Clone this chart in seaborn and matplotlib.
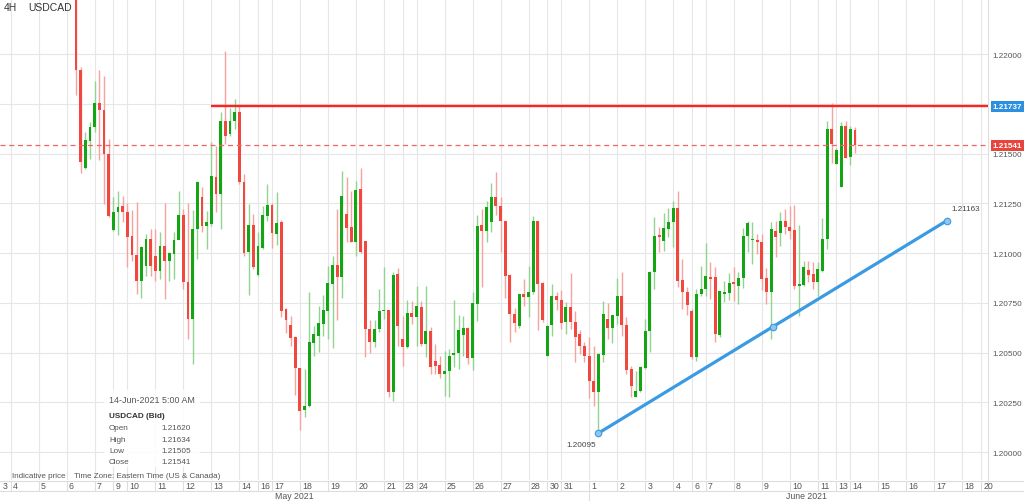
"""USDCAD 4H candlestick chart with resistance line and rising trendline."""
import matplotlib
matplotlib.use("Agg")
import matplotlib.pyplot as plt
import matplotlib.transforms as mtransforms
from matplotlib.lines import Line2D
from matplotlib.patches import Rectangle
import numpy as np
import pandas as pd
import seaborn as sns

# ---------------------------------------------------------------------------
# Data - one candle every 4 hours, 6 May .. 14 Jun 2021
# ---------------------------------------------------------------------------
opens = [
    1.22452, 1.21919, 1.21427, 1.21562, 1.21633, 1.21753, 1.21718, 1.21497, 1.21115, 1.21206,
    1.21236, 1.21206, 1.21085, 1.20990, 1.20859, 1.20934, 1.21070, 1.20985, 1.20909, 1.21035,
    1.20960, 1.20995, 1.21065, 1.21191, 1.20854, 1.20668, 1.21120, 1.21281, 1.21135, 1.21145,
    1.21382, 1.21296, 1.21663, 1.21598, 1.21663, 1.21708, 1.21356, 1.21005, 1.21140, 1.20889,
    1.21025, 1.21186, 1.21241, 1.21095, 1.21155, 1.20718, 1.20638, 1.20578, 1.20422, 1.20211,
    1.20231, 1.20547, 1.20583, 1.20643, 1.20708, 1.20844, 1.20939, 1.20879, 1.21196, 1.21130,
    1.21055, 1.21321, 1.21060, 1.20618, 1.20552, 1.20618, 1.20708, 1.20713, 1.20301, 1.20894,
    1.20568, 1.20527, 1.20698, 1.20678, 1.20728, 1.20542, 1.20608, 1.20457, 1.20437, 1.20392,
    1.20407, 1.20487, 1.20497, 1.20588, 1.20623, 1.20472, 1.20744, 1.21140, 1.21110, 1.21155,
    1.21281, 1.21236, 1.21160, 1.20889, 1.20693, 1.20633, 1.20794, 1.20779, 1.20804, 1.21160,
    1.20849, 1.20482, 1.20638, 1.20784, 1.20764, 1.20653, 1.20728, 1.20653, 1.20593, 1.20532,
    1.20482, 1.20357, 1.20301, 1.20487, 1.20668, 1.20623, 1.20683, 1.20784, 1.20638, 1.20417,
    1.20276, 1.20306, 1.20422, 1.20608, 1.20904, 1.21090, 1.21060, 1.21120, 1.21155, 1.21226,
    1.20864, 1.20804, 1.20708, 1.20477, 1.20794, 1.20819, 1.20879, 1.20879, 1.20588, 1.20794,
    1.20799, 1.20854, 1.20834, 1.20874, 1.21085, 1.21065, 1.21065, 1.21055, 1.20874, 1.20804,
    1.21110, 1.21100, 1.21160, 1.21130, 1.21115, 1.20834, 1.20839, 1.20914, 1.20894, 1.20854,
    1.20909, 1.21070, 1.21623, 1.21447, 1.21330, 1.21638, 1.21482, 1.21620,
]
highs = [
    1.22502, 1.21934, 1.21608, 1.21658, 1.21864, 1.21919, 1.21889, 1.21573, 1.21281, 1.21311,
    1.21286, 1.21251, 1.21216, 1.21256, 1.21035, 1.21095, 1.21120, 1.21120, 1.21105, 1.21251,
    1.21005, 1.21105, 1.21311, 1.21221, 1.21251, 1.21216, 1.21361, 1.21331, 1.21211, 1.21557,
    1.21537, 1.21708, 1.22015, 1.21728, 1.21774, 1.21748, 1.21397, 1.21246, 1.21196, 1.21105,
    1.21236, 1.21346, 1.21251, 1.21306, 1.21165, 1.20723, 1.20683, 1.20583, 1.20422, 1.20417,
    1.20804, 1.20633, 1.20733, 1.20789, 1.20934, 1.20985, 1.21221, 1.21412, 1.21382, 1.21311,
    1.21361, 1.21427, 1.21060, 1.20663, 1.20663, 1.20819, 1.20929, 1.20713, 1.20904, 1.20924,
    1.20683, 1.20764, 1.20759, 1.20834, 1.20759, 1.20834, 1.20628, 1.20542, 1.20482, 1.20507,
    1.20517, 1.20764, 1.20688, 1.20683, 1.20628, 1.20804, 1.21191, 1.21221, 1.21261, 1.21351,
    1.21407, 1.21281, 1.21160, 1.20894, 1.20723, 1.20794, 1.20869, 1.20934, 1.21186, 1.21160,
    1.20854, 1.20638, 1.20844, 1.20804, 1.20814, 1.20754, 1.20899, 1.20708, 1.20613, 1.20552,
    1.20578, 1.20532, 1.20497, 1.20759, 1.20749, 1.20688, 1.20874, 1.20904, 1.20678, 1.20432,
    1.20407, 1.20432, 1.20668, 1.20909, 1.21181, 1.21130, 1.21201, 1.21226, 1.21261, 1.21311,
    1.20970, 1.20829, 1.20718, 1.20819, 1.20934, 1.21050, 1.20954, 1.20929, 1.20809, 1.20859,
    1.20899, 1.20929, 1.20904, 1.21125, 1.21160, 1.21155, 1.21095, 1.21095, 1.20924, 1.21155,
    1.21160, 1.21206, 1.21221, 1.21236, 1.21241, 1.21140, 1.20960, 1.20960, 1.20954, 1.20954,
    1.21176, 1.21663, 1.21753, 1.21527, 1.21658, 1.21663, 1.21638, 1.21634,
]
lows = [
    1.21794, 1.21402, 1.21422, 1.21472, 1.21608, 1.21467, 1.21246, 1.21181, 1.21110, 1.21090,
    1.21155, 1.20929, 1.20960, 1.20794, 1.20774, 1.20884, 1.20884, 1.20859, 1.20869, 1.20769,
    1.20859, 1.20869, 1.21070, 1.20819, 1.20568, 1.20442, 1.20970, 1.21105, 1.21020, 1.21135,
    1.21206, 1.21120, 1.21547, 1.21588, 1.21623, 1.21346, 1.20985, 1.20789, 1.20919, 1.20884,
    1.21020, 1.21160, 1.21025, 1.21040, 1.20678, 1.20598, 1.20532, 1.20286, 1.20110, 1.20176,
    1.20226, 1.20482, 1.20502, 1.20583, 1.20568, 1.20522, 1.20663, 1.20774, 1.21055, 1.21055,
    1.20985, 1.21000, 1.20477, 1.20497, 1.20527, 1.20603, 1.20668, 1.20276, 1.20256, 1.20532,
    1.20430, 1.20522, 1.20643, 1.20532, 1.20532, 1.20477, 1.20392, 1.20392, 1.20372, 1.20281,
    1.20276, 1.20427, 1.20417, 1.20482, 1.20442, 1.20412, 1.20658, 1.20829, 1.21055, 1.21105,
    1.21191, 1.21005, 1.20774, 1.20552, 1.20603, 1.20623, 1.20733, 1.20678, 1.20794, 1.20613,
    1.20653, 1.20482, 1.20583, 1.20713, 1.20618, 1.20593, 1.20618, 1.20452, 1.20492, 1.20452,
    1.20271, 1.20231, 1.20095, 1.20452, 1.20568, 1.20547, 1.20643, 1.20583, 1.20392, 1.20276,
    1.20276, 1.20301, 1.20417, 1.20502, 1.20819, 1.21005, 1.21010, 1.21080, 1.21030, 1.20829,
    1.20718, 1.20688, 1.20467, 1.20457, 1.20784, 1.20784, 1.20769, 1.20552, 1.20578, 1.20754,
    1.20764, 1.20759, 1.20743, 1.20824, 1.21005, 1.20945, 1.20995, 1.20814, 1.20743, 1.20568,
    1.20980, 1.21035, 1.21095, 1.21070, 1.20819, 1.20683, 1.20834, 1.20854, 1.20819, 1.20784,
    1.20904, 1.21020, 1.21452, 1.21447, 1.21330, 1.21477, 1.21442, 1.21505,
]
closes = [
    1.21919, 1.21457, 1.21568, 1.21633, 1.21753, 1.21718, 1.21497, 1.21186, 1.21206, 1.21231,
    1.21206, 1.21080, 1.20990, 1.20859, 1.21030, 1.21070, 1.20934, 1.20909, 1.21035, 1.20960,
    1.21000, 1.21065, 1.21191, 1.20854, 1.20668, 1.21120, 1.21356, 1.21135, 1.21155, 1.21387,
    1.21296, 1.21663, 1.21588, 1.21663, 1.21708, 1.21356, 1.21000, 1.21140, 1.20929, 1.21035,
    1.21191, 1.21241, 1.21100, 1.21150, 1.20708, 1.20663, 1.20573, 1.20422, 1.20206, 1.20231,
    1.20552, 1.20593, 1.20648, 1.20713, 1.20849, 1.20939, 1.20879, 1.21286, 1.21125, 1.21055,
    1.21316, 1.21005, 1.20618, 1.20552, 1.20618, 1.20708, 1.20713, 1.20301, 1.20889, 1.20633,
    1.20527, 1.20698, 1.20678, 1.20734, 1.20542, 1.20608, 1.20427, 1.20432, 1.20392, 1.20407,
    1.20482, 1.20497, 1.20613, 1.20623, 1.20472, 1.20749, 1.21135, 1.21110, 1.21231, 1.21281,
    1.21236, 1.21160, 1.20884, 1.20693, 1.20648, 1.20794, 1.20779, 1.20804, 1.21160, 1.20844,
    1.20663, 1.20633, 1.20784, 1.20764, 1.20648, 1.20728, 1.20653, 1.20578, 1.20532, 1.20482,
    1.20357, 1.20301, 1.20492, 1.20693, 1.20623, 1.20688, 1.20784, 1.20638, 1.20412, 1.20331,
    1.20306, 1.20427, 1.20608, 1.20904, 1.21085, 1.21080, 1.21125, 1.21155, 1.21226, 1.20859,
    1.20804, 1.20738, 1.20477, 1.20794, 1.20819, 1.20884, 1.20869, 1.20593, 1.20809, 1.20804,
    1.20849, 1.20844, 1.20874, 1.21085, 1.21150, 1.21070, 1.21055, 1.20869, 1.20804, 1.21120,
    1.21080, 1.21160, 1.21130, 1.21110, 1.20834, 1.20844, 1.20929, 1.20889, 1.20854, 1.20919,
    1.21070, 1.21623, 1.21547, 1.21517, 1.21638, 1.21477, 1.21623, 1.21541,
]

# day separators: label and candle index of the first candle of that day
day_labels = ["4", "5", "6", "7", "9", "10", "11", "12", "13", "14", "16", "17", "18",
              "19", "20", "21", "23", "24", "25", "26", "27", "28", "30", "31",
              "1", "2", "3", "4", "6", "7", "8", "9", "10", "11", "13", "14", "15",
              "16", "17", "18", "20"]
day_starts = [-14, -8, -2, 4, 8, 11, 17, 23, 29, 35, 39, 42, 48,
              54, 60, 66, 70, 73, 79, 85, 91, 97, 101, 104,
              110, 116, 122, 128, 132, 135, 141, 147, 153, 159, 163, 166, 172,
              178, 184, 190, 194]
first_day_label = "3"        # 3 May, its start lies left of the visible range
month_labels = ["May 2021", "June 2021"]
june_start = 110

price_ticks = [1.20000, 1.20250, 1.20500, 1.20750, 1.21000, 1.21250, 1.21500, 1.21750, 1.22000]

resistance = 1.21737
resistance_from = 29          # candle index where the horizontal line starts
trend_x = [112, 186.7]        # candle index of the trendline anchors
trend_y = [1.20095, 1.21163]

tooltip_rows = [("Open", "1.21620"), ("High", "1.21634"), ("Low", "1.21505"), ("Close", "1.21541")]

# ---------------------------------------------------------------------------
# Style
# ---------------------------------------------------------------------------
sns.set_theme(style="white")
plt.rcParams["font.family"] = ["Liberation Sans", "DejaVu Sans"]

W, H = 1024, 502
GREEN, RED = "#14a514", "#f0483e"
GREEN_W, RED_W = "#8fd48f", "#f5a39e"
GRID = "#e6e6e6"
TXT = "#555555"
FS = 5.9

df = pd.DataFrame({"open": opens, "high": highs, "low": lows, "close": closes})
df["x"] = np.arange(len(df))
up = df["close"] >= df["open"]

X_LEFT, X_RIGHT = -16.3, 195.5          # visible candle-index range
Y_BOTTOM, Y_TOP = 1.198593, 1.222764

fig = plt.figure(figsize=(W / 100, H / 100), dpi=100)
ax = fig.add_axes([0, 21 / H, 988 / W, 481 / H])


def fy(py):
    return 1 - py / H


# ---------------------------------------------------------------------------
# Candles
# ---------------------------------------------------------------------------
ax.vlines(df["x"], df["low"], df["high"],
          colors=np.where(up, GREEN_W, RED_W), linewidth=1.0, zorder=2)
body_low = df[["open", "close"]].min(axis=1)
body_h = (df["close"] - df["open"]).abs().clip(lower=0.00003)
ax.bar(df["x"], body_h, bottom=body_low, width=0.62,
       color=np.where(up, GREEN, RED), linewidth=0, zorder=3)

# resistance and last price
ax.hlines(resistance, resistance_from, X_RIGHT, color="#ff2222", linewidth=1.7, zorder=4)
ax.axhline(closes[-1], color="#f26464", linewidth=0.9, linestyle=(0, (4, 3)), zorder=4)

# rising trendline with its handles
trend = pd.DataFrame({"x": trend_x, "y": trend_y})
handles = pd.DataFrame({"x": [trend_x[0], np.mean(trend_x), trend_x[1]],
                        "y": [trend_y[0], np.mean(trend_y), trend_y[1]]})
sns.lineplot(data=trend, x="x", y="y", ax=ax, color="#3a9be2", linewidth=2.3, zorder=5)
sns.scatterplot(data=handles, x="x", y="y", ax=ax, s=22, color="#8fc6ef",
                edgecolor="#3a9be2", linewidth=0.8, zorder=6)
ax.annotate(f"{trend_y[0]:.5f}", (trend_x[0], trend_y[0]), xytext=(-1.5, -8.5),
            textcoords="offset points", ha="right", va="center", fontsize=FS, color="#444")
ax.annotate(f"{trend_y[1]:.5f}", (trend_x[1], trend_y[1]), xytext=(3.5, 8.5),
            textcoords="offset points", ha="left", va="center", fontsize=FS, color="#444")

# ---------------------------------------------------------------------------
# Axes, grid
# ---------------------------------------------------------------------------
ax.set_xlim(X_LEFT, X_RIGHT)
ax.set_ylim(Y_BOTTOM, Y_TOP)
ax.set_xlabel("")
ax.set_ylabel("")
ax.set_xticks([])
ax.yaxis.tick_right()
ax.set_yticks(price_ticks)
ax.set_yticklabels([f"{p:.5f}" for p in price_ticks])
ax.tick_params(axis="y", length=0, pad=3.5, labelsize=FS, labelcolor=TXT)
for y in price_ticks:
    ax.axhline(y, color=GRID, linewidth=0.8, zorder=0)
for pos in day_starts:
    ax.axvline(pos, color=GRID, linewidth=0.8, zorder=0)
for side in ("top", "left", "bottom"):
    ax.spines[side].set_visible(False)
ax.spines["right"].set_color("#dddddd")
ax.spines["right"].set_linewidth(0.8)

# price boxes on the right axis
yax = mtransforms.blended_transform_factory(ax.transAxes, ax.transData)
for level, col in ((resistance, "#2d8fe0"), (closes[-1], "#e8443b")):
    ax.text(1.005, level, f"{level:.5f}", transform=yax, ha="left", va="center",
            fontsize=5.9, fontweight="bold", color="white", clip_on=False, zorder=10,
            bbox=dict(boxstyle="square,pad=0.25", fc=col, ec="none"))

# ---------------------------------------------------------------------------
# Date strip under the chart
# ---------------------------------------------------------------------------
strip = mtransforms.blended_transform_factory(ax.transData, fig.transFigure)
label_tr = mtransforms.offset_copy(strip, fig=fig, x=1.6, units="points")
for py in (481.5, 492):
    fig.add_artist(Line2D([0, 1], [fy(py), fy(py)], transform=fig.transFigure,
                          color="#dddddd", linewidth=0.8))
fig.text(X_LEFT, fy(487), first_day_label, transform=label_tr, ha="left", va="center",
         fontsize=6.3, color=TXT)
for lab, pos in zip(day_labels, day_starts):
    fig.add_artist(Line2D([pos, pos], [fy(481.5), fy(492)], transform=strip,
                          color="#dddddd", linewidth=0.8))
    fig.text(pos, fy(487), lab, transform=label_tr, ha="left", va="center",
             fontsize=6.3, color=TXT)
fig.add_artist(Line2D([X_RIGHT, X_RIGHT], [fy(481.5), fy(492)], transform=strip,
                      color="#dddddd", linewidth=0.8))
fig.add_artist(Line2D([june_start, june_start], [fy(492), 0], transform=strip,
                      color="#dddddd", linewidth=0.8))
x_fig_right = X_LEFT + (X_RIGHT - X_LEFT) * W / 988
fig.text((X_LEFT + june_start) / 2, fy(497), month_labels[0], transform=strip,
         ha="center", va="center", fontsize=6.3, color=TXT)
fig.text((june_start + x_fig_right) / 2, fy(497), month_labels[1], transform=strip,
         ha="center", va="center", fontsize=6.3, color=TXT)

# ---------------------------------------------------------------------------
# Header, tooltip, footer notes
# ---------------------------------------------------------------------------
fig.text(4 / W, fy(8), "4H", ha="left", va="center", fontsize=7.5, color="#333")
fig.text(28 / W, fy(8), "USDCAD", ha="left", va="center", fontsize=7.5, color="#333")

fig.add_artist(Rectangle((104 / W, fy(468)), 96 / W, 77 / H, transform=fig.transFigure,
                         facecolor="white", alpha=0.85, edgecolor="none", zorder=8))
fig.text(109 / W, fy(401), "14-Jun-2021 5:00 AM", ha="left", va="center",
         fontsize=6.4, color=TXT, zorder=9)
fig.text(109 / W, fy(417), "USDCAD (Bid)", ha="left", va="center",
         fontsize=FS, fontweight="bold", color="#333", zorder=9)
for i, (name, val) in enumerate(tooltip_rows):
    py = 429 + i * 11.3
    fig.text(109 / W, fy(py), name, ha="left", va="center", fontsize=FS, color=TXT, zorder=9)
    fig.text(161 / W, fy(py), val, ha="left", va="center", fontsize=FS, color=TXT, zorder=9)

fig.text(12 / W, fy(476.5), "Indicative price", ha="left", va="center", fontsize=5.8, color=TXT)
fig.text(74 / W, fy(476.5), "Time Zone: Eastern Time (US & Canada)", ha="left",
         va="center", fontsize=5.8, color=TXT)

fig.savefig("out.png", dpi=100, facecolor="white")
